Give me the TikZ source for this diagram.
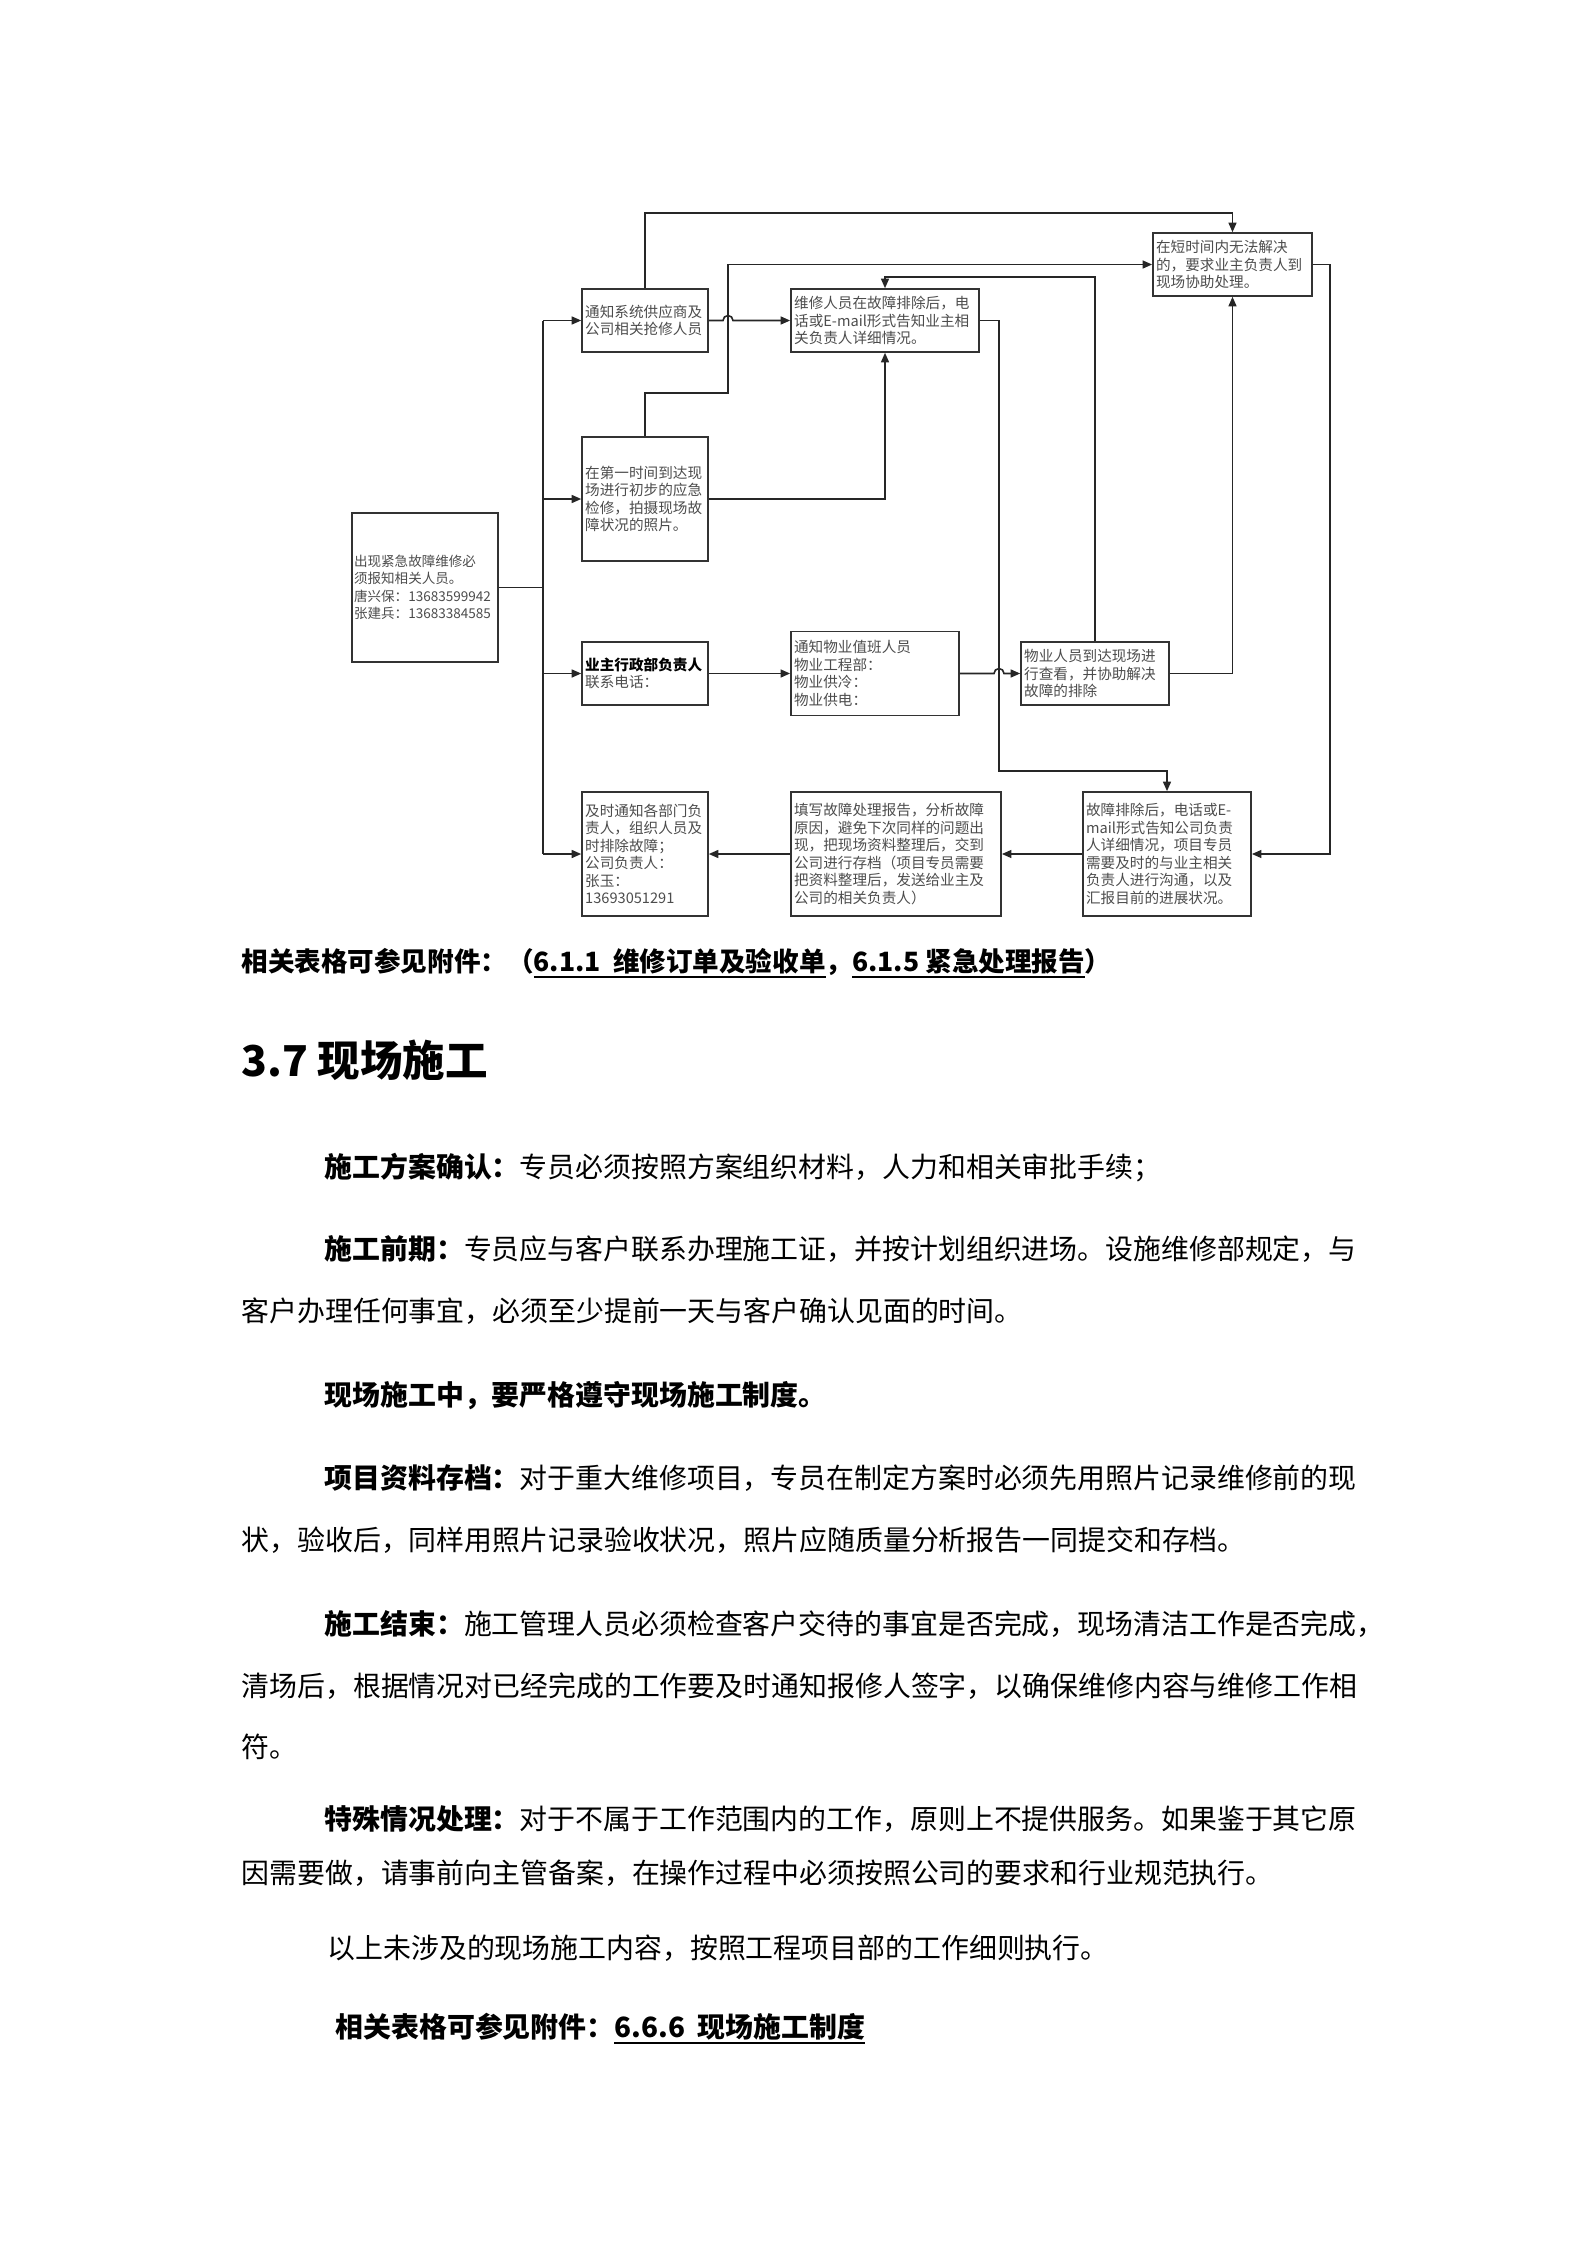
\documentclass[tikz,border=0pt]{standalone}
\usepackage{fontspec}
\setmainfont{Noto Sans CJK SC}
\usetikzlibrary{arrows.meta}

% one pixel of the A4 page
\newdimen\pxu \pxu=0.3765pt
% a justified line, width in pixels
\newcommand{\jline}[2]{\hbox to #1\pxu{\XeTeXlinebreaklocale "zh"\XeTeXlinebreakskip=0pt plus 4pt minus 1.5pt\relax #2}}
% thick underline
\newcommand{\ulbox}[1]{\setbox0\hbox{#1}\rlap{\rule[-2.8pt]{\wd0}{0.9pt}}\box0}

\begin{document}
\begin{tikzpicture}[x=0.013233cm, y=-0.013233cm,
  box/.style={draw=black!80, line width=0.6pt, rectangle, inner xsep=1.2pt, inner ysep=0pt,
    align=left, font=\fontsize{5.5}{6.6}\selectfont, text=black!70},
  link/.style={draw=black!85, line width=0.6pt, -{Triangle[length=3.6pt,width=3pt]}},
  wire/.style={draw=black!85, line width=0.6pt},
  body/.style={anchor=base west, inner sep=0pt, font=\fontsize{10.5}{12}\selectfont}]

\useasboundingbox (0,0) rectangle (1587,2245);

%=== FLOW CHART: boxes
\node[box, text width=53.4pt, inner xsep=0.8pt, minimum height=56.1pt, font=\fontsize{5.1}{6.6}\selectfont] (alarm) at (425,587.5)
  {出现紧急故障维修必\\须报知相关人员。\\唐兴保：13683599942\\张建兵：13683384585};
\node[box, text width=45pt, minimum height=23.7pt] (notify) at (645,320.5)
  {通知系统供应商及\\公司相关抢修人员};
\node[box, text width=45pt, minimum height=46.7pt] (inspect) at (645,499)
  {在第一时间到达现\\场进行初步的应急\\检修，拍摄现场故\\障状况的照片。};
\node[box, text width=45pt, minimum height=23.7pt] (owner) at (645,673.5)
  {\textbf{\color{black}业主行政部负责人}\\联系电话：};
\node[box, text width=68.4pt, minimum height=23.7pt] (report) at (885,320.5)
  {维修人员在故障排除后，电\\话或E-mail形式告知业主相\\关负责人详细情况。};
\node[box, text width=57.5pt, minimum height=23.7pt] (assist) at (1232.5,264.5)
  {在短时间内无法解决\\的，要求业主负责人到\\现场协助处理。};
\node[box, text width=60.9pt, minimum height=31.6pt] (duty) at (875,673.5)
  {通知物业值班人员\\物业工程部：\\物业供冷：\\物业供电：};
\node[box, text width=53.3pt, minimum height=23.7pt] (onsite) at (1095,673.5)
  {物业人员到达现场进\\行查看，并协助解决\\故障的排除};
\node[box, text width=60.9pt, minimum height=46.7pt] (feedback) at (1167,854)
  {故障排除后，电话或E-\\mail形式告知公司负责\\人详细情况，项目专员\\需要及时的与业主相关\\负责人进行沟通，以及\\汇报目前的进展状况。};
\node[box, text width=76.7pt, minimum height=46.7pt] (archive) at (896,854)
  {填写故障处理报告，分析故障\\原因，避免下次同样的问题出\\现，把现场资料整理后，交到\\公司进行存档（项目专员需要\\把资料整理后，发送给业主及\\公司的相关负责人）};
\node[box, text width=45pt, minimum height=46.7pt] (notice) at (645,854)
  {及时通知各部门负\\责人，组织人员及\\时排除故障；\\公司负责人：\\张玉：\\13693051291};

%--- routing points
\coordinate (bus) at (543,0);
\coordinate (railtop) at (0,213);
\coordinate (jog) at (728,393);
\coordinate (hopA) at (723,320.5);
\coordinate (drop) at (999,771);
\coordinate (rise) at (0,277);
\coordinate (railR) at (1330,0);
\coordinate (hopB) at (994,673.5);

%--- left bus
\draw[wire] (alarm.east) -- (bus |- alarm.east);
\draw[wire] (bus |- notify.west) -- (bus |- notice.west);
\foreach \n in {notify, inspect, owner, notice} {
  \draw[link] (bus |- \n.west) -- (\n.west);
}

%--- connectors
\draw[link] (notify.north) |- (railtop -| assist.north) -- (assist.north);
\draw[link] (inspect.north) |- (jog) |- (assist.west);
\draw[link] (notify.east) -- (hopA) arc (180:360:5) -- (report.west);
\draw[link] (inspect.east) -| (report.south);
\draw[link] (report.east) -| (drop) -| (feedback.north);
\draw[link] (onsite.north) -- (onsite.north |- rise) -| (report.north);
\draw[link] (onsite.east) -| (assist.south);
\draw[link] (assist.east) -| (railR |- feedback.east) -- (feedback.east);
\draw[link] (owner.east) -- (duty.west);
\draw[link] (duty.east) -- (hopB) arc (180:360:5) -- (onsite.west);
\draw[link] (feedback.west) -- (archive.east);
\draw[link] (archive.west) -- (notice.east);

%=== TEXT BELOW THE CHART
\node[body, font=\fontsize{10}{12}\selectfont\bfseries] (ref1) at (241,971)
  {相关表格可参见附件：（\ulbox{6.1.1\ \ 维修订单及验收单}，\ulbox{6.1.5 紧急处理报告}）};
\node[body, font=\fontsize{16}{19}\selectfont\bfseries] (head) at (241,1076) {3.7 现场施工};

\node[body] (p1) at (324,1177) {\textbf{施工方案确认：}专员必须按照方案组织材料，人力和相关审批手续；};
\node[body] (p2a) at (324,1259) {\jline{1022}{\textbf{施工前期：}专员应与客户联系办理施工证，并按计划组织进场。设施维修部规定，与}};
\node[body] (p2b) at (241,1321) {客户办理任何事宜，必须至少提前一天与客户确认见面的时间。};
\node[body] (p3) at (324,1405) {\textbf{现场施工中，要严格遵守现场施工制度。}};
\node[body] (p4a) at (324,1488) {\jline{1022}{\textbf{项目资料存档：}对于重大维修项目，专员在制定方案时必须先用照片记录维修前的现}};
\node[body] (p4b) at (241,1550) {状，验收后，同样用照片记录验收状况，照片应随质量分析报告一同提交和存档。};
\node[body] (p5a) at (324,1634) {\jline{1022}{\textbf{施工结束：}施工管理人员必须检查客户交待的事宜是否完成，现场清洁工作是否完成，}};
\node[body] (p5b) at (241,1696) {\jline{1105}{清场后，根据情况对已经完成的工作要及时通知报修人签字，以确保维修内容与维修工作相}};
\node[body] (p5c) at (241,1757) {符。};
\node[body] (p6a) at (324,1829) {\jline{1022}{\textbf{特殊情况处理：}对于不属于工作范围内的工作，原则上不提供服务。如果鉴于其它原}};
\node[body] (p6b) at (241,1883) {因需要做，请事前向主管备案，在操作过程中必须按照公司的要求和行业规范执行。};
\node[body] (p7) at (327,1958) {以上未涉及的现场施工内容，按照工程项目部的工作细则执行。};
\node[body, font=\fontsize{10.5}{12}\selectfont\bfseries] (ref2) at (335,2037)
  {相关表格可参见附件：\ulbox{6.6.6\ \ 现场施工制度}};

\end{tikzpicture}
\end{document}
